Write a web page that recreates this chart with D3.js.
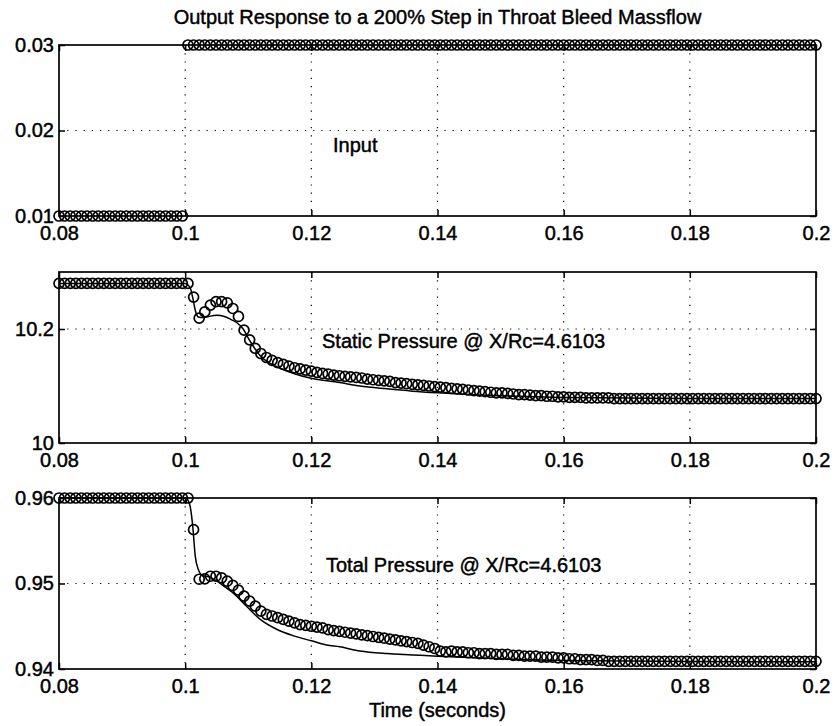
<!DOCTYPE html>
<html>
<head>
<meta charset="utf-8">
<script src="https://cdn.jsdelivr.net/npm/d3@7"></script>
<style>
  html, body { margin: 0; padding: 0; background: #fff; }
  svg { display: block; }
  text { font-family: "Liberation Sans", Arial, Helvetica, sans-serif; fill: #000; stroke: #000; stroke-width: 0.45px; }
</style>
</head>
<body>
<svg id="chart" width="835" height="726"></svg>
<script>
// ---- Data -------------------------------------------------------------
const titleText = "Output Response to a 200% Step in Throat Bleed Massflow";
const xLabelText = "Time (seconds)";

const xDomain = [0.08, 0.2];
const xTicks = [0.08, 0.1, 0.12, 0.14, 0.16, 0.18, 0.2];
const xTickLabels = ["0.08", "0.1", "0.12", "0.14", "0.16", "0.18", "0.2"];

// Recorded samples (circles): 136 samples spread evenly over 0.08 .. 0.2 s
const sampleStart = 0.08;
const sampleStep = 0.12 / 135;

// Panel 1: bleed massflow input
const inputDomain = [0.01, 0.03];
const inputTicks = [0.01, 0.02, 0.03];
const inputTickLabels = ["0.01", "0.02", "0.03"];
const inputLabel = "Input";
const inputCircles = [
  0.01, 0.01, 0.01, 0.01, 0.01, 0.01, 0.01, 0.01, 0.01, 0.01,
  0.01, 0.01, 0.01, 0.01, 0.01, 0.01, 0.01, 0.01, 0.01, 0.01,
  0.01, 0.01, 0.01, 0.03, 0.03, 0.03, 0.03, 0.03, 0.03, 0.03,
  0.03, 0.03, 0.03, 0.03, 0.03, 0.03, 0.03, 0.03, 0.03, 0.03,
  0.03, 0.03, 0.03, 0.03, 0.03, 0.03, 0.03, 0.03, 0.03, 0.03,
  0.03, 0.03, 0.03, 0.03, 0.03, 0.03, 0.03, 0.03, 0.03, 0.03,
  0.03, 0.03, 0.03, 0.03, 0.03, 0.03, 0.03, 0.03, 0.03, 0.03,
  0.03, 0.03, 0.03, 0.03, 0.03, 0.03, 0.03, 0.03, 0.03, 0.03,
  0.03, 0.03, 0.03, 0.03, 0.03, 0.03, 0.03, 0.03, 0.03, 0.03,
  0.03, 0.03, 0.03, 0.03, 0.03, 0.03, 0.03, 0.03, 0.03, 0.03,
  0.03, 0.03, 0.03, 0.03, 0.03, 0.03, 0.03, 0.03, 0.03, 0.03,
  0.03, 0.03, 0.03, 0.03, 0.03, 0.03, 0.03, 0.03, 0.03, 0.03,
  0.03, 0.03, 0.03, 0.03, 0.03, 0.03, 0.03, 0.03, 0.03, 0.03,
  0.03, 0.03, 0.03, 0.03, 0.03, 0.03
];

// Panel 2: static pressure
const staticDomain = [10, 10.3];
const staticTicks = [10, 10.2];
const staticTickLabels = ["10", "10.2"];
const staticLabel = "Static Pressure @ X/Rc=4.6103";
const staticCircles = [
  10.28, 10.28, 10.28, 10.28, 10.28, 10.28, 10.28, 10.28, 10.28, 10.28,
  10.28, 10.28, 10.28, 10.28, 10.28, 10.28, 10.28, 10.28, 10.28, 10.28,
  10.28, 10.28, 10.28, 10.28, 10.256, 10.219, 10.230, 10.242, 10.248, 10.248,
  10.246, 10.236, 10.222, 10.198, 10.181, 10.166, 10.157, 10.150, 10.145, 10.141,
  10.138, 10.135, 10.132, 10.130, 10.128, 10.126, 10.124, 10.122, 10.121, 10.119,
  10.118, 10.117, 10.116, 10.115, 10.114, 10.112, 10.111, 10.110, 10.109, 10.108,
  10.106, 10.105, 10.104, 10.103, 10.102, 10.101, 10.100, 10.099, 10.098, 10.097,
  10.096, 10.095, 10.094, 10.093, 10.092, 10.091, 10.090, 10.089, 10.088, 10.088,
  10.087, 10.086, 10.085, 10.085, 10.084, 10.083, 10.083, 10.082, 10.082, 10.081,
  10.081, 10.080, 10.080, 10.080, 10.079, 10.079, 10.079, 10.079, 10.079, 10.078,
  10.078, 10.078, 10.078, 10.078, 10.078, 10.078, 10.078, 10.078, 10.078, 10.078,
  10.078, 10.078, 10.078, 10.078, 10.078, 10.078, 10.078, 10.078, 10.078, 10.078,
  10.078, 10.078, 10.078, 10.078, 10.078, 10.078, 10.078, 10.078, 10.078, 10.078,
  10.078, 10.078, 10.078, 10.078, 10.078, 10.078
];
// Model response (solid line)
const staticLineTimes = [
  0.08, 0.1, 0.1008, 0.1012, 0.1016, 0.1021, 0.1028, 0.1037, 0.105, 0.1062,
  0.1072, 0.1082, 0.1092, 0.1100, 0.1105, 0.1119, 0.1145, 0.1172, 0.1198, 0.1245,
  0.1277, 0.132, 0.136, 0.14, 0.145, 0.15, 0.16, 0.17, 0.18, 0.2
];
const staticLineValues = [
  10.28, 10.28, 10.272, 10.255, 10.233, 10.221, 10.220, 10.222, 10.224, 10.222,
  10.217, 10.211, 10.200, 10.184, 10.175, 10.153, 10.134, 10.122, 10.114, 10.106,
  10.100, 10.095, 10.091, 10.088, 10.085, 10.083, 10.080, 10.079, 10.078, 10.078
];

// Panel 3: total pressure
const totalDomain = [0.94, 0.96];
const totalTicks = [0.94, 0.95, 0.96];
const totalTickLabels = ["0.94", "0.95", "0.96"];
const totalLabel = "Total Pressure @ X/Rc=4.6103";
const totalCircles = [
  0.96, 0.96, 0.96, 0.96, 0.96, 0.96, 0.96, 0.96, 0.96, 0.96,
  0.96, 0.96, 0.96, 0.96, 0.96, 0.96, 0.96, 0.96, 0.96, 0.96,
  0.96, 0.96, 0.96, 0.96, 0.9563, 0.9505, 0.95055, 0.95085, 0.95085, 0.95066,
  0.95027, 0.94977, 0.94922, 0.94852, 0.94794, 0.94736, 0.94678, 0.9464, 0.9462, 0.9460,
  0.9458, 0.9456, 0.9454, 0.9452, 0.9451, 0.9450, 0.9449, 0.9448, 0.9446, 0.9445,
  0.9444, 0.9443, 0.9442, 0.9441, 0.9440, 0.9439, 0.9438, 0.9437, 0.9436, 0.9435,
  0.9434, 0.9433, 0.9432, 0.9431, 0.9430, 0.9428, 0.9426, 0.9424, 0.9421, 0.9420,
  0.9421, 0.9420, 0.9420, 0.9419, 0.9419, 0.9418, 0.9418, 0.9418, 0.9417, 0.9417,
  0.9417, 0.9416, 0.9416, 0.9415, 0.9415, 0.9415, 0.9414, 0.9414, 0.9414, 0.9413,
  0.9413, 0.9412, 0.9412, 0.9411, 0.9411, 0.9411, 0.9410, 0.9410, 0.9409, 0.9409,
  0.9409, 0.9409, 0.9409, 0.9409, 0.9409, 0.9409, 0.9409, 0.9409, 0.9409, 0.9409,
  0.9409, 0.9409, 0.9409, 0.9409, 0.9409, 0.9409, 0.9409, 0.9409, 0.9409, 0.9409,
  0.9409, 0.9409, 0.9409, 0.9409, 0.9409, 0.9409, 0.9409, 0.9409, 0.9409, 0.9409,
  0.9409, 0.9409, 0.9409, 0.9409, 0.9409, 0.9409
];
const totalLineTimes = [
  0.08, 0.1, 0.1004, 0.1008, 0.1012, 0.1016, 0.1021, 0.1028, 0.1037, 0.105,
  0.1063, 0.1076, 0.1097, 0.1119, 0.1145, 0.1171, 0.12, 0.1224, 0.1245, 0.1277,
  0.132, 0.136, 0.14, 0.15, 0.16, 0.18, 0.2
];
const totalLineValues = [
  0.96, 0.96, 0.9598, 0.9590, 0.9567, 0.9532, 0.9516, 0.9509, 0.9508, 0.9503,
  0.9496, 0.9489, 0.94736, 0.9458, 0.94465, 0.9439, 0.9433, 0.9428, 0.9426, 0.9421,
  0.9418, 0.94165, 0.9415, 0.9412, 0.9410, 0.94088, 0.94085
];

// ---- Layout -----------------------------------------------------------
const svg = d3.select("#chart");
const plotLeft = 59, plotRight = 816;
const panelTops = [45, 272, 498];
const panelHeight = 171;
const fontSize = 20;

const x = d3.scaleLinear().domain(xDomain).range([plotLeft, plotRight]);

const panels = [
  { domain: inputDomain, ticks: inputTicks, tickLabels: inputTickLabels, grid: [0.02],
    label: inputLabel, labelPos: [333, 152], circles: inputCircles, line: null },
  { domain: staticDomain, ticks: staticTicks, tickLabels: staticTickLabels, grid: [10.2],
    label: staticLabel, labelPos: [322, 348], circles: staticCircles,
    line: { t: staticLineTimes, v: staticLineValues } },
  { domain: totalDomain, ticks: totalTicks, tickLabels: totalTickLabels, grid: [0.95],
    label: totalLabel, labelPos: [326, 572], circles: totalCircles,
    line: { t: totalLineTimes, v: totalLineValues } }
];

svg.append("text")
  .attr("x", (plotLeft + plotRight) / 2)
  .attr("y", 24)
  .attr("text-anchor", "middle")
  .style("font-size", fontSize + "px")
  .text(titleText);

panels.forEach((p, pi) => {
  const top = panelTops[pi];
  const bottom = top + panelHeight;
  const y = d3.scaleLinear().domain(p.domain).range([bottom, top]);
  const g = svg.append("g");

  // dotted grid
  const gridX = xTicks.filter(t => t > xDomain[0] && t < xDomain[1]);
  g.append("g").selectAll("line").data(gridX).join("line")
    .attr("x1", d => x(d)).attr("x2", d => x(d))
    .attr("y1", top).attr("y2", bottom)
    .attr("stroke", "#000").attr("stroke-width", 1.2)
    .attr("stroke-dasharray", "1.2,7");
  g.append("g").selectAll("line").data(p.grid).join("line")
    .attr("x1", plotLeft).attr("x2", plotRight)
    .attr("y1", d => y(d)).attr("y2", d => y(d))
    .attr("stroke", "#000").attr("stroke-width", 1.2)
    .attr("stroke-dasharray", "1.2,7");

  // box
  g.append("rect")
    .attr("x", plotLeft).attr("y", top)
    .attr("width", plotRight - plotLeft).attr("height", panelHeight)
    .attr("fill", "none").attr("stroke", "#000").attr("stroke-width", 1.7);

  // axes with inward ticks on all four sides
  const bottomAxis = d3.axisBottom(x).tickValues(xTicks)
    .tickFormat((d, i) => xTickLabels[i]).tickSize(-6).tickPadding(10);
  const topAxis = d3.axisTop(x).tickValues(xTicks).tickFormat("").tickSize(-6);
  const leftAxis = d3.axisLeft(y).tickValues(p.ticks)
    .tickFormat((d, i) => p.tickLabels[i]).tickSize(-6).tickPadding(5);
  const rightAxis = d3.axisRight(y).tickValues(p.ticks).tickFormat("").tickSize(-6);

  const axes = [
    g.append("g").attr("transform", `translate(0,${bottom})`).call(bottomAxis),
    g.append("g").attr("transform", `translate(0,${top})`).call(topAxis),
    g.append("g").attr("transform", `translate(${plotLeft},0)`).call(leftAxis),
    g.append("g").attr("transform", `translate(${plotRight},0)`).call(rightAxis)
  ];
  axes.forEach(a => {
    a.select(".domain").remove();
    a.selectAll(".tick line").attr("stroke", "#000").attr("stroke-width", 1.5);
    a.selectAll("text").style("font-size", fontSize + "px")
      .style("font-family", '"Liberation Sans", Arial, Helvetica, sans-serif')
      .attr("fill", "#000");
  });

  // model response line
  if (p.line) {
    const pts = p.line.t.map((t, i) => [t, p.line.v[i]]);
    g.append("path")
      .datum(pts)
      .attr("fill", "none").attr("stroke", "#000").attr("stroke-width", 1.5)
      .attr("d", d3.line().x(d => x(d[0])).y(d => y(d[1])).curve(d3.curveMonotoneX));
  }

  // sampled response circles
  g.append("g").selectAll("circle")
    .data(p.circles.map((v, i) => [sampleStart + i * sampleStep, v]))
    .join("circle")
    .attr("cx", d => x(d[0])).attr("cy", d => y(d[1]))
    .attr("r", 5)
    .attr("fill", "none").attr("stroke", "#000").attr("stroke-width", 1.7);

  // panel annotation
  g.append("text")
    .attr("x", p.labelPos[0]).attr("y", p.labelPos[1])
    .style("font-size", fontSize + "px")
    .text(p.label);
});

svg.append("text")
  .attr("x", (plotLeft + plotRight) / 2)
  .attr("y", 717)
  .attr("text-anchor", "middle")
  .style("font-size", fontSize + "px")
  .text(xLabelText);
</script>
</body>
</html>
